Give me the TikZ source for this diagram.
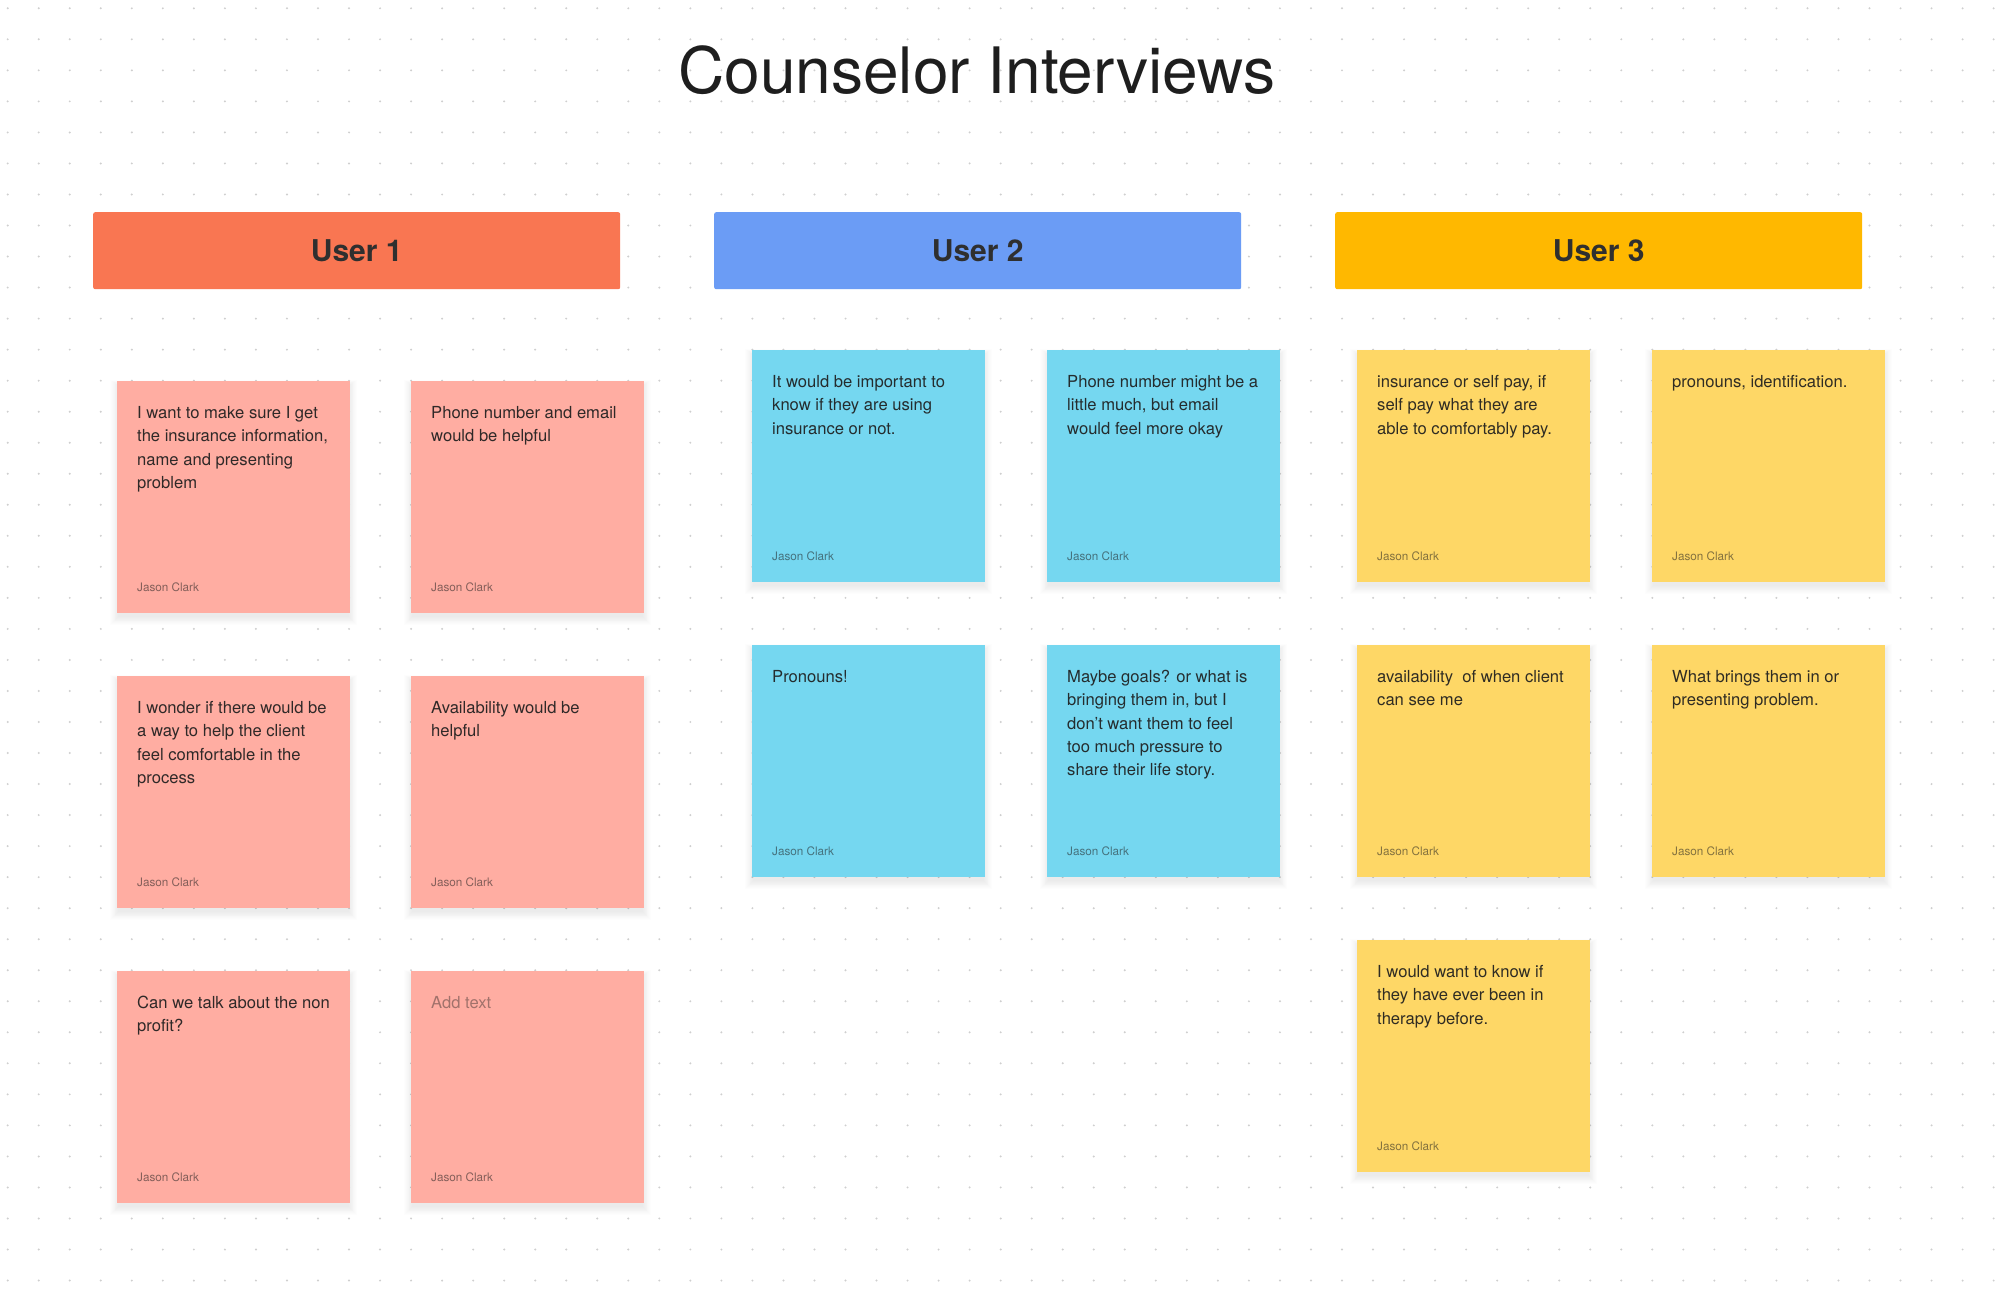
\documentclass[tikz,border=0pt]{standalone}
\usepackage{fontspec}
\setmainfont{TeX Gyre Heros}
\definecolor{ink}{HTML}{1E1E1E}
\definecolor{hdrink}{HTML}{2F2F2F}
\definecolor{dotc}{HTML}{CFCFCF}
\definecolor{hdrA}{HTML}{F97652}
\definecolor{hdrB}{HTML}{6B9CF5}
\definecolor{hdrC}{HTML}{FFB800}
\definecolor{pinkn}{HTML}{FFADA2}
\definecolor{bluen}{HTML}{75D7F0}
\definecolor{yellown}{HTML}{FED766}
\tikzset{
  header/.style={rectangle, rounded corners=2pt, minimum width=527pt, minimum height=77pt, inner sep=0pt, anchor=north west, text=hdrink, font=\fontsize{30}{30}\selectfont\bfseries},
  note/.style={rectangle, minimum width=233pt, minimum height=232pt, inner sep=0pt, anchor=north west},
  notetext/.style={inner sep=0pt, anchor=base west, text=ink, text opacity=0.92},
  author/.style={inner sep=0pt, anchor=base west, text=ink, text opacity=0.55, font=\fontsize{11.7}{12}\selectfont},
}
\newcommand\stickynote[5]{%
  \foreach \k in {1,...,10}{\fill[black, fill opacity=0.007] (#2+2-\k*0.9, #3+5-\k*0.6) rectangle (#2+231+\k*0.9, #3+235+\k*0.9);}
  \node[note, fill=#4] (#1) at (#2,#3) {};
  \node[notetext] (#1-t) at ([xshift=20pt,yshift=-37.5pt]#1.north west) {\parbox[t]{215pt}{\raggedright\fontsize{16.6}{23.3}\selectfont #5}};
  \node[author] (#1-a) at ([xshift=20pt,yshift=22pt]#1.south west) {Jason Clark};
}
\begin{document}
\begin{tikzpicture}[x=1pt,y=-1pt]
\useasboundingbox (0,0) rectangle (2002,1292);
\fill[white] (0,0) rectangle (2002,1292);
\foreach \i in {0,...,64}{\foreach \j in {0,...,41}{\fill[dotc] (7.7+31.03*\i, 8.3+31.03*\j) circle (1.1);}}
% title
\node[inner sep=0pt, anchor=base, text=ink, font=\fontsize{64}{64}\selectfont] (title) at (977,94) {Counselor Interviews};
% headers
\node[header, fill=hdrA] (h1) at (93,212) {User 1};
\node[header, fill=hdrB] (h2) at (714,212) {User 2};
\node[header, fill=hdrC] (h3) at (1335,212) {User 3};
% user 1
\stickynote{a1}{117}{381}{pinkn}{I want to make sure I get\\the insurance information,\\name and presenting\\problem}
\stickynote{a2}{411}{381}{pinkn}{Phone number and email\\would be helpful}
\stickynote{a3}{117}{676}{pinkn}{I wonder if there would be\\a way to help the client\\feel comfortable in the\\process}
\stickynote{a4}{411}{676}{pinkn}{Availability would be\\helpful}
\stickynote{a5}{117}{971}{pinkn}{Can we talk about the non\\profit?}
\stickynote{a6}{411}{971}{pinkn}{\textcolor{ink!45!pinkn}{Add text}}
% user 2
\stickynote{b1}{752}{350}{bluen}{It would be important to\\know if they are using\\insurance or not.}
\stickynote{b2}{1047}{350}{bluen}{Phone number might be a\\little much, but email\\would feel more okay}
\stickynote{b3}{752}{645}{bluen}{Pronouns!}
\stickynote{b4}{1047}{645}{bluen}{Maybe goals? or what is\\bringing them in, but I\\don't want them to feel\\too much pressure to\\share their life story.}
% user 3
\stickynote{c1}{1357}{350}{yellown}{insurance or self pay, if\\self pay what they are\\able to comfortably pay.}
\stickynote{c2}{1652}{350}{yellown}{pronouns, identification.}
\stickynote{c3}{1357}{645}{yellown}{availability\ \ of when client\\can see me}
\stickynote{c4}{1652}{645}{yellown}{What brings them in or\\presenting problem.}
\stickynote{c5}{1357}{940}{yellown}{I would want to know if\\they have ever been in\\therapy before.}
\end{tikzpicture}
\end{document}
